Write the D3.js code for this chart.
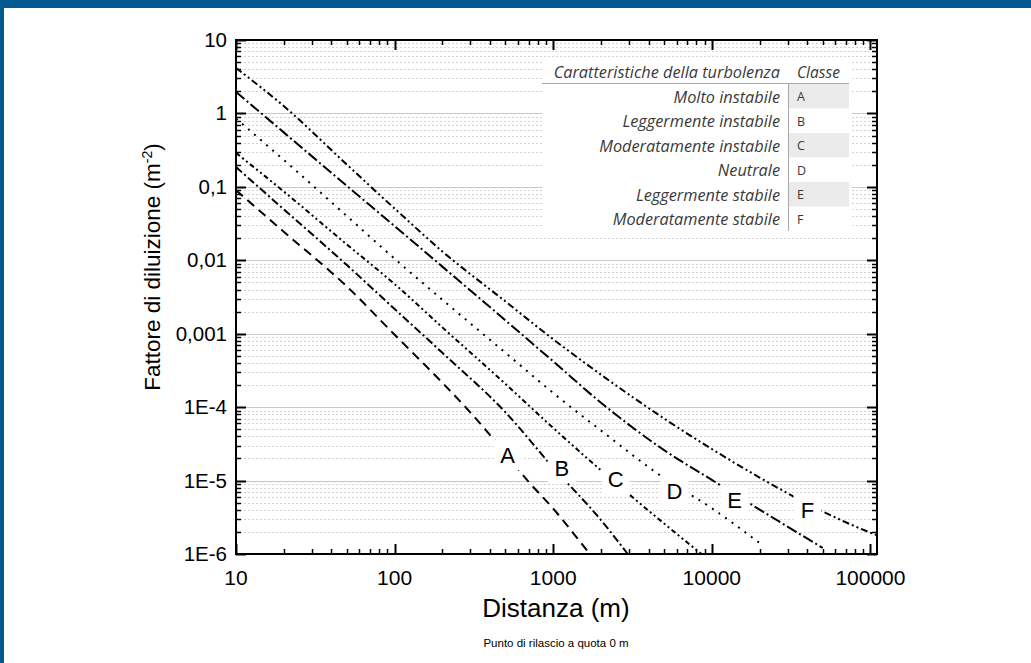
<!DOCTYPE html>
<html><head><meta charset="utf-8">
<script src="https://cdn.jsdelivr.net/npm/d3@7"></script>
<style>body{margin:0;background:#fff;} svg{display:block;}</style>
</head><body><svg id="c" width="1031" height="663"></svg>
<script>
// ---------- data ----------
const xTickValues = [10, 100, 1000, 10000, 100000];
const xTickLabels = ["10", "100", "1000", "10000", "100000"];
const yTickValues = [10, 1, 0.1, 0.01, 0.001, 1e-4, 1e-5, 1e-6];
const yTickLabels = ["10", "1", "0,1", "0,01", "0,001", "1E-4", "1E-5", "1E-6"];
const classLetters = ["A", "B", "C", "D", "E", "F"];
const classNames = ["Molto instabile", "Leggermente instabile", "Moderatamente instabile", "Neutrale", "Leggermente stabile", "Moderatamente stabile"];

const seriesA = [[10,0.09],[20,0.0245],[50,4.4e-3],[100,9.7e-4],[200,2.15e-4],[300,8.5e-5],[500,2.34e-5],[700,9.6e-6],[1000,4.15e-6],[1400,1.7e-6],[1700,1e-6]];
const seriesB = [[10,0.186],[20,0.0494],[50,8.6e-3],[100,2.17e-3],[200,5.5e-4],[500,8.5e-5],[1000,1.5e-5],[2000,2.9e-6],[2950,1e-6]];
const seriesC = [[10,0.29],[20,0.0865],[50,0.0164],[100,4.75e-3],[200,1.22e-3],[500,2.07e-4],[1000,5.2e-5],[2000,1.38e-5],[5000,2.6e-6],[8600,1e-6]];
const seriesD = [[10,0.85],[20,0.233],[50,0.040],[100,0.0105],[200,2.9e-3],[500,5.5e-4],[1000,1.56e-4],[2000,4.8e-5],[5000,1.08e-5],[10000,4.2e-6],[20000,1.41e-6]];
const seriesE = [[10,1.96],[20,0.552],[50,0.103],[100,0.0292],[200,8.2e-3],[500,1.52e-3],[1000,4.2e-4],[2000,1.15e-4],[5000,2.6e-5],[10000,1.02e-5],[20000,4.03e-6],[50000,1.21e-6]];
const seriesF = [[10,4.16],[20,1.26],[50,0.201],[100,0.0507],[200,0.0132],[500,2.75e-3],[1000,8.4e-4],[2000,2.77e-4],[5000,7.0e-5],[10000,2.69e-5],[20000,1.1e-5],[50000,3.8e-6],[100000,1.95e-6],[110000,1.8e-6]];

const labelX = [516, 1132, 2477, 5820, 13900, 40100];
const labelY = [2.23e-5, 1.48e-5, 1.05e-5, 7.2e-6, 5.4e-6, 3.97e-6];

const xDomain = [10, 110000];
const yDomain = [1e-6, 10];

// ---------- layout ----------
const svg = d3.select("#c");
const L = 236, R = 877, T = 40, B = 554;
const x = d3.scaleLog().domain(xDomain).range([L, R]);
const y = d3.scaleLog().domain(yDomain).range([B, T]);
const font = "'Liberation Sans', Arial, sans-serif";

svg.append("rect").attr("x",0).attr("y",0).attr("width",1031).attr("height",663).attr("fill","#fff");
svg.append("rect").attr("x",0).attr("y",0).attr("width",1031).attr("height",8).attr("fill","#03588f");
svg.append("rect").attr("x",0).attr("y",0).attr("width",4).attr("height",663).attr("fill","#03588f");

const xMinor = [], yMinor = [];
for (let e = 1; e <= 5; e++) for (let k = 2; k <= 9; k++) { const v = k * Math.pow(10, e); if (v <= xDomain[1]) xMinor.push(v); }
for (let e = -6; e <= 0; e++) for (let k = 2; k <= 9; k++) yMinor.push(k * Math.pow(10, e));

// grid
const g = svg.append("g");
g.selectAll(".ym").data(yMinor).join("line")
  .attr("x1", L).attr("x2", R).attr("y1", d => Math.round(y(d)) + 0.5).attr("y2", d => Math.round(y(d)) + 0.5)
  .attr("stroke", "#d2d2d2").attr("stroke-width", 1).attr("stroke-dasharray", "2,2");
g.selectAll(".yM").data(yTickValues.slice(1, -1)).join("line")
  .attr("x1", L).attr("x2", R).attr("y1", d => Math.round(y(d)) + 0.5).attr("y2", d => Math.round(y(d)) + 0.5)
  .attr("stroke", "#c8c8c8").attr("stroke-width", 1);

// table
const tb = svg.append("g");
tb.append("rect").attr("x", 542).attr("y", 58).attr("width", 310).attr("height", 178).attr("fill", "#fff");
const tf = "'Open Sans', 'Noto Sans', sans-serif";
const tfs = 16.3;
tb.append("text").attr("x", 780).attr("y", 78).attr("text-anchor", "end").attr("font-family", tf).attr("font-style", "italic").attr("font-size", tfs).attr("fill", "#3a3a3a").text("Caratteristiche della turbolenza");
tb.append("text").attr("x", 797).attr("y", 78).attr("font-family", tf).attr("font-style", "italic").attr("font-size", tfs - 0.8).attr("fill", "#3a3a3a").text("Classe");
const rowH = 24.5, row0 = 84;
classNames.forEach((n, i) => {
  const top = row0 + i * rowH;
  if (i % 2 === 0) tb.append("rect").attr("x", 789).attr("y", top).attr("width", 60).attr("height", rowH).attr("fill", "#ebebeb");
  tb.append("text").attr("x", 780).attr("y", top + 18.5).attr("text-anchor", "end").attr("font-family", tf).attr("font-style", "italic").attr("font-size", tfs).attr("fill", "#3a3a3a").text(n);
  tb.append("text").attr("x", 797).attr("y", top + 17).attr("font-family", tf).attr("font-size", 12.5).attr("fill", "#3a3a3a").text(classLetters[i]);
});
tb.append("line").attr("x1", 542).attr("x2", 849).attr("y1", 83.5).attr("y2", 83.5).attr("stroke", "#a8a8a8");
tb.append("line").attr("x1", 788.5).attr("x2", 788.5).attr("y1", 84).attr("y2", 231).attr("stroke", "#a8a8a8");

// curves
svg.append("clipPath").attr("id", "clip").append("rect").attr("x", L).attr("y", T).attr("width", R - L).attr("height", B - T);
const series = [seriesA, seriesB, seriesC, seriesD, seriesE, seriesF];
const dashes = ["9,6", "8,3,2,3", "5,3,2,3,2,3", "2,6", "11,3,2,3", "7,3,2,3,2,3"];
const line = d3.line().x(d => x(d[0])).y(d => y(d[1])).curve(d3.curveMonotoneX);
const cg = svg.append("g").attr("clip-path", "url(#clip)");
series.forEach((s, i) => {
  cg.append("path").attr("d", line(s)).attr("fill", "none").attr("stroke", "#000").attr("stroke-width", 2).attr("stroke-dasharray", dashes[i]);
});

// curve labels
classLetters.forEach((c, i) => {
  const cx = x(labelX[i]), cy = y(labelY[i]);
  svg.append("rect").attr("x", cx - 14).attr("y", cy - 15).attr("width", 28).attr("height", 30).attr("fill", "#fff");
  svg.append("text").attr("x", cx).attr("y", cy + 8).attr("text-anchor", "middle").attr("font-family", font).attr("font-size", 22).attr("fill", "#000").text(c);
});

// ticks (inside)
function ticks(vals, len, sw) {
  const a = svg.append("g").attr("stroke", "#000").attr("stroke-width", sw);
  vals.forEach(v => {
    const px = Math.round(x(v)) + 0.5;
    a.append("line").attr("x1", px).attr("x2", px).attr("y1", B).attr("y2", B - len);
    a.append("line").attr("x1", px).attr("x2", px).attr("y1", T).attr("y2", T + len);
  });
}
function yticks(vals, len, sw) {
  const a = svg.append("g").attr("stroke", "#000").attr("stroke-width", sw);
  vals.forEach(v => {
    const py = Math.round(y(v)) + 0.5;
    a.append("line").attr("y1", py).attr("y2", py).attr("x1", L).attr("x2", L + len);
    a.append("line").attr("y1", py).attr("y2", py).attr("x1", R).attr("x2", R - len);
  });
}
ticks(xTickValues, 10, 2);
ticks(xMinor, 5, 1.5);
yticks(yTickValues, 10, 2);
yticks(yMinor, 5, 1.5);
svg.append("rect").attr("x", L).attr("y", T).attr("width", R - L).attr("height", B - T).attr("fill", "none").attr("stroke", "#000").attr("stroke-width", 2);

// tick labels
svg.append("g").selectAll("text").data(xTickValues).join("text")
  .attr("x", d => x(d)).attr("y", 585).attr("text-anchor", "middle")
  .attr("font-family", font).attr("font-size", 21).attr("fill", "#000").text((d, i) => xTickLabels[i]);
svg.append("g").selectAll("text").data(yTickValues).join("text")
  .attr("x", 227).attr("y", d => y(d) + 7).attr("text-anchor", "end")
  .attr("font-family", font).attr("font-size", 20.5).attr("fill", "#000").text((d, i) => yTickLabels[i]);

// titles
svg.append("text").attr("x", 556).attr("y", 617).attr("text-anchor", "middle").attr("font-family", font).attr("font-size", 26).attr("fill", "#000").text("Distanza (m)");
const yt = svg.append("text").attr("transform", "translate(160,267) rotate(-90)").attr("text-anchor", "middle").attr("font-family", font).attr("font-size", 22.5).attr("fill", "#000");
yt.append("tspan").text("Fattore di diluizione (m");
yt.append("tspan").attr("dy", -8).attr("font-size", 14).text("-2");
yt.append("tspan").attr("dy", 8).text(")");
svg.append("text").attr("x", 556).attr("y", 647).attr("text-anchor", "middle").attr("font-family", font).attr("font-size", 11.5).attr("fill", "#000").text("Punto di rilascio a quota 0 m");
</script></body></html>
